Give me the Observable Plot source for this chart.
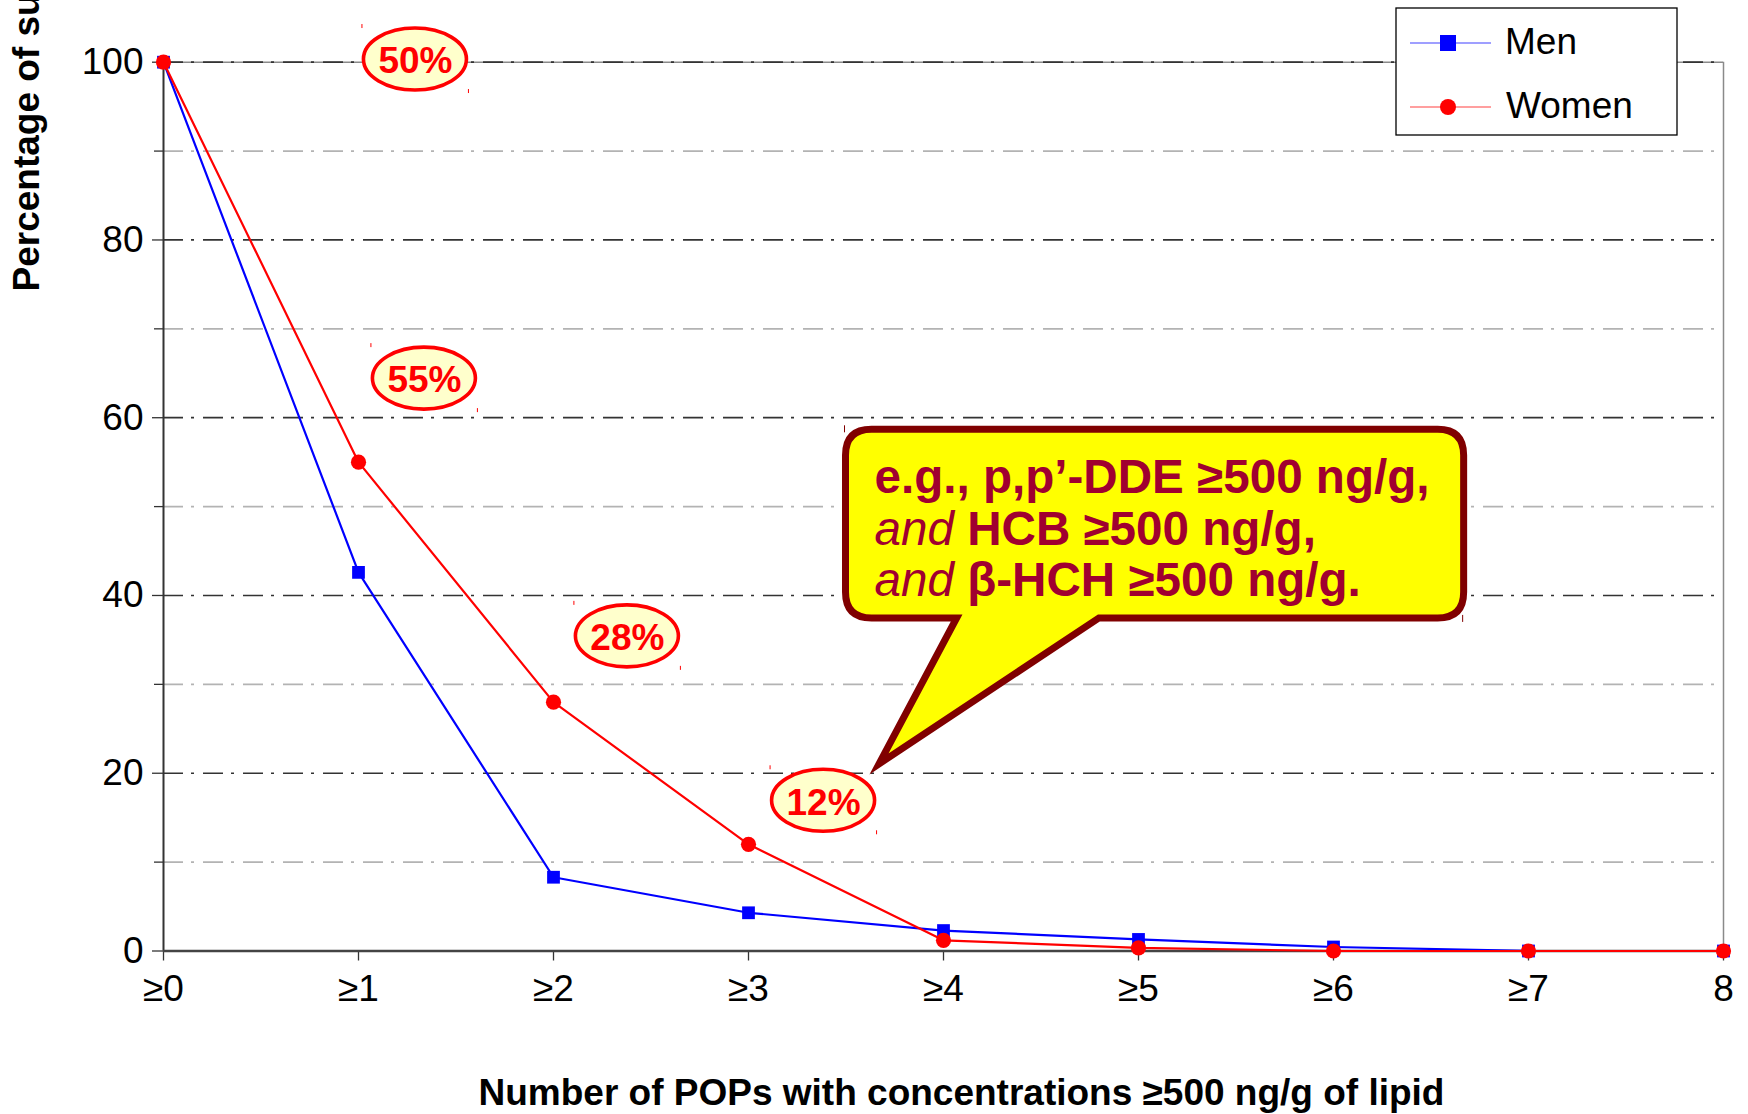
<!DOCTYPE html>
<html>
<head>
<meta charset="utf-8">
<script src="https://cdn.jsdelivr.net/npm/d3@7"></script>
<script src="https://cdn.jsdelivr.net/npm/@observablehq/plot@0.6"></script>
<style>
  html, body { margin: 0; padding: 0; background: #fff; overflow: hidden; }
  #chart { width: 1748px; height: 1114px; }
</style>
</head>
<body>
<div id="chart"></div>
<script>
// Number of POPs at or above 500 ng/g of lipid (cumulative categories)
const counts = [0, 1, 2, 3, 4, 5, 6, 7, 8];
const tickLabels = ["≥0", "≥1", "≥2", "≥3", "≥4", "≥5", "≥6", "≥7", "8"];

// Percentage of subjects in each category
const men   = [100, 42.6, 8.3, 4.3, 2.3, 1.3, 0.45, 0, 0];
const women = [100, 55, 28, 12, 1.2, 0.35, 0, 0, 0];

const majorTicks = [0, 20, 40, 60, 80, 100];
const minorTicks = [10, 30, 50, 70, 90];

const xTitle = "Number of POPs with concentrations ≥500 ng/g of lipid";
const yTitle = "Percentage of subjects";
const seriesNames = ["Men", "Women"];

// Oval call-outs on the women's curve
const ovalLabels = ["50%", "55%", "28%", "12%"];

// Speech-bubble text: each line is a list of [text, style] runs
const calloutLines = [
  [["e.g., p,p’-DDE ≥500 ng/g,", "bold"]],
  [["and", "italic"], [" HCB ≥500 ng/g,", "bold"]],
  [["and", "italic"], [" β-HCH ≥500 ng/g.", "bold"]]
];

// ---- derived tables -------------------------------------------------------
const series = [
  {name: seriesNames[0], values: men,   color: "#0000ff", symbol: "square"},
  {name: seriesNames[1], values: women, color: "#ff0000", symbol: "circle"}
];
const rows = s => counts.map((n, i) => ({n, v: s.values[i]}));

// placement of the ovals (in data units)
const ovalPos = [[1.292, 100.3], [1.338, 64.4], [2.379, 35.4], [3.385, 16.9]];
const ovals = ovalLabels.map((label, i) => ({label, x: ovalPos[i][0], y: ovalPos[i][1]}));

// speech bubble geometry (in data units)
const bubble = {x0: 3.5, x1: 6.67, yTop: 58.64, yBottom: 37.42, tipX: 3.672, tipY: 21, baseX0: 4.07, baseX1: 4.80};

const FONT = '"Liberation Sans", Arial, Helvetica, sans-serif';
const DASH = "20,8,3,9";

// ---- custom render marks ---------------------------------------------------
function ovalShapes(index, scales) {
  const g = d3.create("svg:g");
  const rx = 51.5, ry = 31;
  for (const o of ovals) {
    const cx = scales.x(o.x), cy = scales.y(o.y);
    g.append("ellipse")
      .attr("cx", cx).attr("cy", cy).attr("rx", rx).attr("ry", ry)
      .attr("fill", "#ffffcc").attr("stroke", "#ff0000").attr("stroke-width", 3.6);
    // tiny handle marks at the bounding-box corners
    g.append("line").attr("x1", cx - rx - 1.5).attr("x2", cx - rx - 1.5)
      .attr("y1", cy - ry - 4).attr("y2", cy - ry)
      .attr("stroke", "#ff0000").attr("stroke-width", 1);
    g.append("line").attr("x1", cx + rx + 2).attr("x2", cx + rx + 2)
      .attr("y1", cy + ry - 1).attr("y2", cy + ry + 3)
      .attr("stroke", "#ff0000").attr("stroke-width", 1);
  }
  return g.node();
}

function speechBubble(index, scales) {
  const g = d3.create("svg:g");
  const L = scales.x(bubble.x0), R = scales.x(bubble.x1);
  const T = scales.y(bubble.yTop), B = scales.y(bubble.yBottom);
  const tx = scales.x(bubble.tipX), ty = scales.y(bubble.tipY);
  const b0 = scales.x(bubble.baseX0), b1 = scales.x(bubble.baseX1);
  const r = 26;
  const path = [
    `M${L + r},${T}`,
    `H${R - r}`, `Q${R},${T} ${R},${T + r}`,
    `V${B - r}`, `Q${R},${B} ${R - r},${B}`,
    `H${b1}`, `L${tx},${ty}`, `L${b0},${B}`,
    `H${L + r}`, `Q${L},${B} ${L},${B - r}`,
    `V${T + r}`, `Q${L},${T} ${L + r},${T}`, "Z"
  ].join("");
  g.append("path").attr("d", path)
    .attr("fill", "#ffff00").attr("stroke", "#800000")
    .attr("stroke-width", 7).attr("stroke-linejoin", "miter").attr("stroke-miterlimit", 10);
  g.append("line").attr("x1", L - 1).attr("x2", L - 1).attr("y1", T - 4).attr("y2", T + 3)
    .attr("stroke", "#800000").attr("stroke-width", 1);
  g.append("line").attr("x1", R - 1).attr("x2", R - 1).attr("y1", B - 3).attr("y2", B + 4)
    .attr("stroke", "#800000").attr("stroke-width", 1);
  const text = g.append("text")
    .attr("font-family", FONT).attr("font-size", 47.6).attr("fill", "#a00030")
    .attr("text-anchor", "start");
  calloutLines.forEach((line, i) => {
    line.forEach(([t, style], j) => {
      const span = text.append("tspan").text(t)
        .attr("font-weight", style === "bold" ? "bold" : "normal")
        .attr("font-style", style === "italic" ? "italic" : "normal");
      if (j === 0) span.attr("x", L + 29).attr("y", T + 64 + i * 51.5);
    });
  });
  return g.node();
}

function legendBox(index, scales, values, dims) {
  const g = d3.create("svg:g");
  const right = dims.width - dims.marginRight;
  const x0 = right - 327, y0 = 8;
  g.append("rect").attr("x", x0).attr("y", y0).attr("width", 281).attr("height", 127)
    .attr("fill", "#fff").attr("stroke", "#000").attr("stroke-width", 1.3);
  series.forEach((s, i) => {
    const cy = 43 + i * 64;
    g.append("line").attr("x1", x0 + 14).attr("x2", x0 + 95).attr("y1", cy).attr("y2", cy)
      .attr("stroke", s.color).attr("stroke-width", 1.2).attr("stroke-opacity", 0.75);
    if (s.symbol === "square") {
      g.append("rect").attr("x", x0 + 44).attr("y", cy - 8).attr("width", 16).attr("height", 16)
        .attr("fill", s.color);
    } else {
      g.append("circle").attr("cx", x0 + 52).attr("cy", cy).attr("r", 8).attr("fill", s.color);
    }
    g.append("text").attr("x", x0 + 109 + (i ? 1 : 0)).attr("y", cy + 11)
      .attr("text-anchor", "start")
      .attr("font-family", FONT).attr("font-size", 37).attr("fill", "#000").text(s.name);
  });
  return g.node();
}

// ---- chart -----------------------------------------------------------------
const chart = Plot.plot({
  width: 1748,
  height: 1114,
  marginLeft: 163,
  marginRight: 25,
  marginTop: 61.7,
  marginBottom: 163.5,
  style: {fontFamily: FONT, fontSize: "37px", background: "#fff", color: "#000"},
  x: {domain: [0, 8]},
  y: {domain: [0, 100]},
  marks: [
    // dash-dot grid
    Plot.ruleY(minorTicks, {stroke: "#b3b3b3", strokeWidth: 1.7, strokeDasharray: DASH}),
    Plot.ruleY([100], {stroke: "#8a8a8a", strokeWidth: 1.5}),
    Plot.ruleY(majorTicks.filter(d => d > 0), {stroke: "#333", strokeWidth: 1.7, strokeDasharray: DASH}),
    Plot.ruleX([8], {stroke: "#8a8a8a", strokeWidth: 1.5}),

    // axes
    Plot.axisY({ticks: minorTicks, tickSize: 9, tickFormat: () => "", label: null, stroke: "#333", strokeWidth: 1.3}),
    Plot.axisY({ticks: majorTicks, tickSize: 11, tickPadding: 9, fontSize: 37, label: null, stroke: "#333", strokeWidth: 1.3}),
    Plot.axisX({ticks: counts, tickFormat: d => tickLabels[d], tickSize: 10, tickPadding: 14, fontSize: 37, label: null, stroke: "#333", strokeWidth: 1.3}),
    Plot.ruleX([0], {stroke: "#333", strokeWidth: 2}),
    Plot.ruleY([0], {stroke: "#444", strokeWidth: 2.6}),

    // data
    ...series.flatMap(s => [
      Plot.line(rows(s), {x: "n", y: "v", stroke: s.color, strokeWidth: 2.2}),
      Plot.dot(rows(s), {x: "n", y: "v", symbol: s.symbol, r: s.symbol === "square" ? 7.2 : 7.6, fill: s.color})
    ]),

    // annotations
    ovalShapes,
    Plot.text(ovals, {x: "x", y: "y", text: "label", fill: "#ff0000", fontWeight: "bold", fontSize: 37, dy: 2}),
    speechBubble,
    legendBox,

    // titles
    Plot.text([yTitle], {text: d => d, frameAnchor: "top-left", dx: -151, dy: 229.3, rotate: -90,
      textAnchor: "start", fontWeight: "bold", fontSize: 37}),
    Plot.text([xTitle], {text: d => d, frameAnchor: "bottom", dx: 18, dy: 154,
      fontWeight: "bold", fontSize: 37})
  ]
});

document.getElementById("chart").append(chart);
</script>
</body>
</html>
